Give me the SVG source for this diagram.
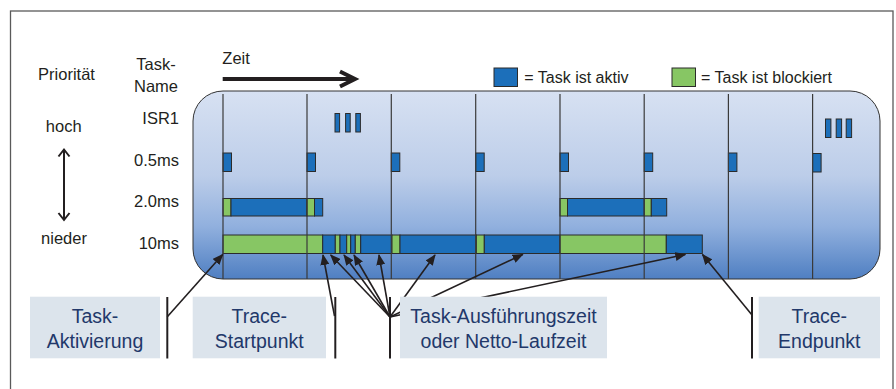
<svg xmlns="http://www.w3.org/2000/svg" width="896" height="389" viewBox="0 0 896 389">
<defs>
<linearGradient id="pg" x1="0" y1="0" x2="0" y2="1">
<stop offset="0" stop-color="#d7e1f2"/>
<stop offset="0.45" stop-color="#bccde9"/>
<stop offset="0.72" stop-color="#91b0de"/>
<stop offset="1" stop-color="#4f7fc2"/>
</linearGradient>
<marker id="ah" markerUnits="userSpaceOnUse" markerWidth="11" markerHeight="9" refX="10" refY="4.5" orient="auto">
<path d="M0,0 L11,4.5 L0,9 z" fill="#231f20"/>
</marker>
</defs>
<style>
.t{font-family:"Liberation Sans",Arial,sans-serif;font-size:16.5px;fill:#231f20}
.bt{font-family:"Liberation Sans",Arial,sans-serif;font-size:19.5px;fill:#22386a;text-anchor:middle}
.a{fill:#1c6fba;stroke:#2b2b2b;stroke-width:1}
.b{fill:#87c664;stroke:#2b2b2b;stroke-width:1}
.g{stroke:#3a3a3a;stroke-width:1.2}
.c{stroke:#231f20;stroke-width:1.6;fill:none}
.k{stroke:#231f20;stroke-width:2;fill:none}
.box{fill:#dce4ec}
</style>
<rect id="frame" x="10.5" y="11" width="882.5" height="400" fill="#fff" stroke="#5a5a5a" stroke-width="1.3"/>

<g id="labels">
<text class="t" x="66.5" y="80" text-anchor="middle">Priorität</text>
<text class="t" x="63.7" y="131.7" text-anchor="middle">hoch</text>
<text class="t" x="64" y="244" text-anchor="middle">nieder</text>
<text class="t" x="156" y="70" text-anchor="middle">Task-</text>
<text class="t" x="156" y="91.7" text-anchor="middle">Name</text>
<text class="t" x="222.3" y="64">Zeit</text>
<text class="t" x="179" y="124" text-anchor="end">ISR1</text>
<text class="t" x="179" y="166" text-anchor="end">0.5ms</text>
<text class="t" x="179" y="207.3" text-anchor="end">2.0ms</text>
<text class="t" x="179" y="249.3" text-anchor="end">10ms</text>
</g>

<g id="priority-arrow" class="k">
<line x1="64" y1="149.5" x2="64" y2="220"/>
<polyline points="58.5,156.5 64,149.5 69.5,156.5"/>
<polyline points="58.5,213 64,220 69.5,213"/>
</g>

<g id="time-arrow" fill="none" stroke="#231f20" stroke-width="4">
<line x1="222.7" y1="79" x2="354" y2="79"/>
<polyline points="340,71.5 355,79 340,86.5"/>
</g>

<g id="legend">
<rect class="a" x="494" y="68" width="23.5" height="18.5"/>
<text class="t" x="524.3" y="82.7" style="font-size:16px">= Task ist aktiv</text>
<rect class="b" x="672" y="68" width="23.5" height="18.5"/>
<text class="t" x="701" y="82.7" style="font-size:16px">= Task ist blockiert</text>
</g>

<g id="panel">
<rect x="193" y="91" width="687" height="188" rx="30" ry="30" fill="url(#pg)" stroke="#333" stroke-width="1"/>
</g>

<g id="isr1">
<rect class="a" x="335" y="113.5" width="4.6" height="18.5"/>
<rect class="a" x="345.6" y="113.5" width="4.6" height="18.5"/>
<rect class="a" x="355.8" y="113.5" width="4.6" height="18.5"/>
<rect class="a" x="825.5" y="119" width="5.4" height="18.5"/>
<rect class="a" x="836.2" y="119" width="5.4" height="18.5"/>
<rect class="a" x="846.2" y="119" width="5.4" height="18.5"/>
</g>

<g id="task-0.5ms">
<rect class="a" x="223" y="153" width="8.5" height="18.5"/>
<rect class="a" x="307" y="153" width="8.5" height="18.5"/>
<rect class="a" x="391.3" y="153" width="8.5" height="18.5"/>
<rect class="a" x="475.7" y="153" width="8.5" height="18.5"/>
<rect class="a" x="560" y="153" width="8.5" height="18.5"/>
<rect class="a" x="644.2" y="153" width="8.5" height="18.5"/>
<rect class="a" x="728.4" y="153" width="8.5" height="18.5"/>
<rect class="a" x="812.6" y="153.5" width="8.5" height="18.5"/>
</g>

<g id="task-2.0ms">
<rect class="b" x="223" y="198.5" width="8" height="17.5"/>
<rect class="a" x="231" y="198.5" width="76" height="17.5"/>
<rect class="b" x="307" y="198.5" width="7.5" height="17.5"/>
<rect class="a" x="314.5" y="198.5" width="8.2" height="17.5"/>
<rect class="b" x="560" y="198.5" width="7.5" height="17.5"/>
<rect class="a" x="567.5" y="198.5" width="76.8" height="17.5"/>
<rect class="b" x="644.3" y="198.5" width="7" height="17.5"/>
<rect class="a" x="651.3" y="198.5" width="15.4" height="17.5"/>
</g>

<g id="task-10ms">
<rect class="b" x="223" y="235" width="99.7" height="18.5"/>
<rect class="a" x="322.7" y="235" width="12.6" height="18.5"/>
<rect class="b" x="335.3" y="235" width="4.7" height="18.5"/>
<rect class="a" x="340" y="235" width="6.7" height="18.5"/>
<rect class="b" x="346.7" y="235" width="4" height="18.5"/>
<rect class="a" x="350.7" y="235" width="4.6" height="18.5"/>
<rect class="b" x="355.3" y="235" width="5.4" height="18.5"/>
<rect class="a" x="360.7" y="235" width="31.3" height="18.5"/>
<rect class="b" x="392" y="235" width="8" height="18.5"/>
<rect class="a" x="400" y="235" width="76.3" height="18.5"/>
<rect class="b" x="476.3" y="235" width="8" height="18.5"/>
<rect class="a" x="484.3" y="235" width="75.7" height="18.5"/>
<rect class="b" x="560" y="235" width="106.3" height="18.5"/>
<rect class="a" x="666.3" y="235" width="36" height="18.5"/>
</g>

<g id="gridlines" class="g">
<line x1="223" y1="94" x2="223" y2="279"/>
<line x1="307" y1="94" x2="307" y2="279"/>
<line x1="391.3" y1="94" x2="391.3" y2="279"/>
<line x1="475.7" y1="94" x2="475.7" y2="279"/>
<line x1="560" y1="94" x2="560" y2="279"/>
<line x1="644.2" y1="94" x2="644.2" y2="279"/>
<line x1="728.4" y1="94" x2="728.4" y2="279"/>
<line x1="812.6" y1="94" x2="812.6" y2="279"/>
</g>

<g id="connectors">
<g class="k">
<line x1="167.3" y1="297" x2="167.3" y2="358.5"/>
<line x1="335.3" y1="297" x2="335.3" y2="358.5"/>
<line x1="390" y1="297" x2="390" y2="358.5"/>
<line x1="752" y1="297" x2="752" y2="358.5"/>
</g>
<g class="c" marker-end="url(#ah)">
<line x1="167.3" y1="316.7" x2="222.7" y2="254.5"/>
<line x1="334.5" y1="316" x2="323" y2="255"/>
<line x1="390" y1="317" x2="330.7" y2="255"/>
<line x1="390" y1="317" x2="344" y2="255"/>
<line x1="390" y1="317" x2="354" y2="255"/>
<line x1="390" y1="317" x2="379" y2="255"/>
<line x1="390" y1="317" x2="435" y2="255"/>
<line x1="390" y1="317" x2="522.7" y2="254.5"/>
<line x1="390" y1="317" x2="685.3" y2="254.5"/>
<line x1="752" y1="315" x2="702.5" y2="254.5"/>
</g>
</g>

<g id="box-aktivierung">
<rect class="box" x="30" y="296.7" width="130" height="61.6"/>
<text class="bt" x="95" y="323.3">Task-</text>
<text class="bt" x="95" y="348.3">Aktivierung</text>
</g>
<g id="box-startpunkt">
<rect class="box" x="192.7" y="296.7" width="133.3" height="61.6"/>
<text class="bt" x="259.3" y="323.3">Trace-</text>
<text class="bt" x="259.3" y="348.3">Startpunkt</text>
</g>
<g id="box-laufzeit">
<rect class="box" x="400" y="296.7" width="207" height="61.6"/>
<text class="bt" x="503.5" y="323.3">Task-Ausführungszeit</text>
<text class="bt" x="503.5" y="348.3">oder Netto-Laufzeit</text>
</g>
<g id="box-endpunkt">
<rect class="box" x="758.7" y="296.7" width="121.3" height="61.6"/>
<text class="bt" x="819.3" y="323.3">Trace-</text>
<text class="bt" x="819.3" y="348.3">Endpunkt</text>
</g>
</svg>
